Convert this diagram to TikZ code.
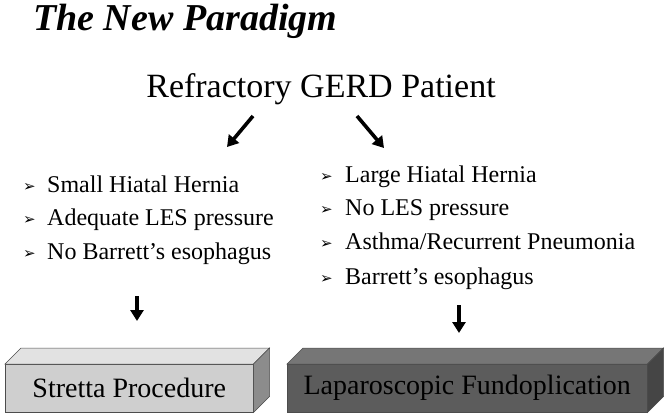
\documentclass[tikz,border=0pt]{standalone}
\usepackage{fontspec}
\setmainfont{Liberation Serif}
\newfontfamily\bulletfont{DejaVu Sans}
\usetikzlibrary{arrows.meta,calc}
\definecolor{lfront}{HTML}{CFCFCF}
\definecolor{ltop}{HTML}{E2E2E2}
\definecolor{lside}{HTML}{8C8C8C}
\definecolor{rfront}{HTML}{5C5C5C}
\definecolor{rtop}{HTML}{767676}
\definecolor{rside}{HTML}{454545}
\tikzset{
  item/.style={anchor=base west, inner sep=0pt, font=\fontsize{24}{28}\selectfont},
  bul/.style={anchor=base west, inner sep=0pt, font=\bulletfont\fontsize{15}{16}\selectfont},
  arr/.style={line width=3.6pt, -{Triangle[width=13pt,length=11pt]}},
  front/.style={draw=black!70, line width=0.5pt, anchor=north west, minimum height=48pt, inner sep=0pt, font=\fontsize{28}{32}\selectfont},
  face/.style={draw=black!70, line width=0.5pt}
}
\begin{document}
\begin{tikzpicture}[x=1pt,y=-1pt]
\useasboundingbox (0,0) rectangle (667,416);
\node[anchor=base west, inner sep=0pt, font=\fontsize{38}{40}\selectfont\bfseries\itshape] (title) at (33,30) {The New Paradigm};
\node[anchor=base, inner sep=0pt, font=\fontsize{34}{38}\selectfont] (root) at (321,97) {Refractory GERD Patient};
% arrows from root
\coordinate (la1) at (253,116); \coordinate (la2) at (227,147);
\coordinate (ra1) at (357,116); \coordinate (ra2) at (384,148);
\draw[arr] (la1) -- (la2);
\draw[arr] (ra1) -- (ra2);
% left list
\node[bul] (lb1) at (23,191) {➢}; \node[item] (l1) at (47,192) {Small Hiatal Hernia};
\node[bul] (lb2) at (23,224) {➢}; \node[item] (l2) at (47,225) {Adequate LES pressure};
\node[bul] (lb3) at (23,258) {➢}; \node[item] (l3) at (47,259) {No Barrett’s esophagus};
% right list
\node[bul] (rb1) at (320,181) {➢}; \node[item] (r1) at (345,182) {Large Hiatal Hernia};
\node[bul] (rb2) at (320,214) {➢}; \node[item] (r2) at (345,215) {No LES pressure};
\node[bul] (rb3) at (320,248) {➢}; \node[item] (r3) at (345,249) {Asthma/Recurrent Pneumonia};
\node[bul] (rb4) at (320,283) {➢}; \node[item] (r4) at (345,284) {Barrett’s esophagus};
% boxes
\node[front, fill=lfront, minimum width=248pt] (stretta) at (5,364) {Stretta Procedure};
\filldraw[face, fill=ltop] (stretta.north west) -- ++(16,-16) -- ($(stretta.north east)+(16,-16)$) -- (stretta.north east) -- cycle;
\filldraw[face, fill=lside] (stretta.north east) -- ++(16,-16) -- ($(stretta.south east)+(16,-16)$) -- (stretta.south east) -- cycle;
\node[front, fill=rfront, minimum width=360pt] (lap) at (287,364) {Laparoscopic Fundoplication};
\filldraw[face, fill=rtop] (lap.north west) -- ++(16,-16) -- ($(lap.north east)+(16,-16)$) -- (lap.north east) -- cycle;
\filldraw[face, fill=rside] (lap.north east) -- ++(16,-16) -- ($(lap.south east)+(16,-16)$) -- (lap.south east) -- cycle;
% down arrows
\coordinate (ld1) at (137,296); \coordinate (ld2) at (137,321);
\coordinate (rd1) at (459,305); \coordinate (rd2) at (459,333);
\draw[arr] (ld1) -- (ld2);
\draw[arr] (rd1) -- (rd2);
\end{tikzpicture}
\end{document}
